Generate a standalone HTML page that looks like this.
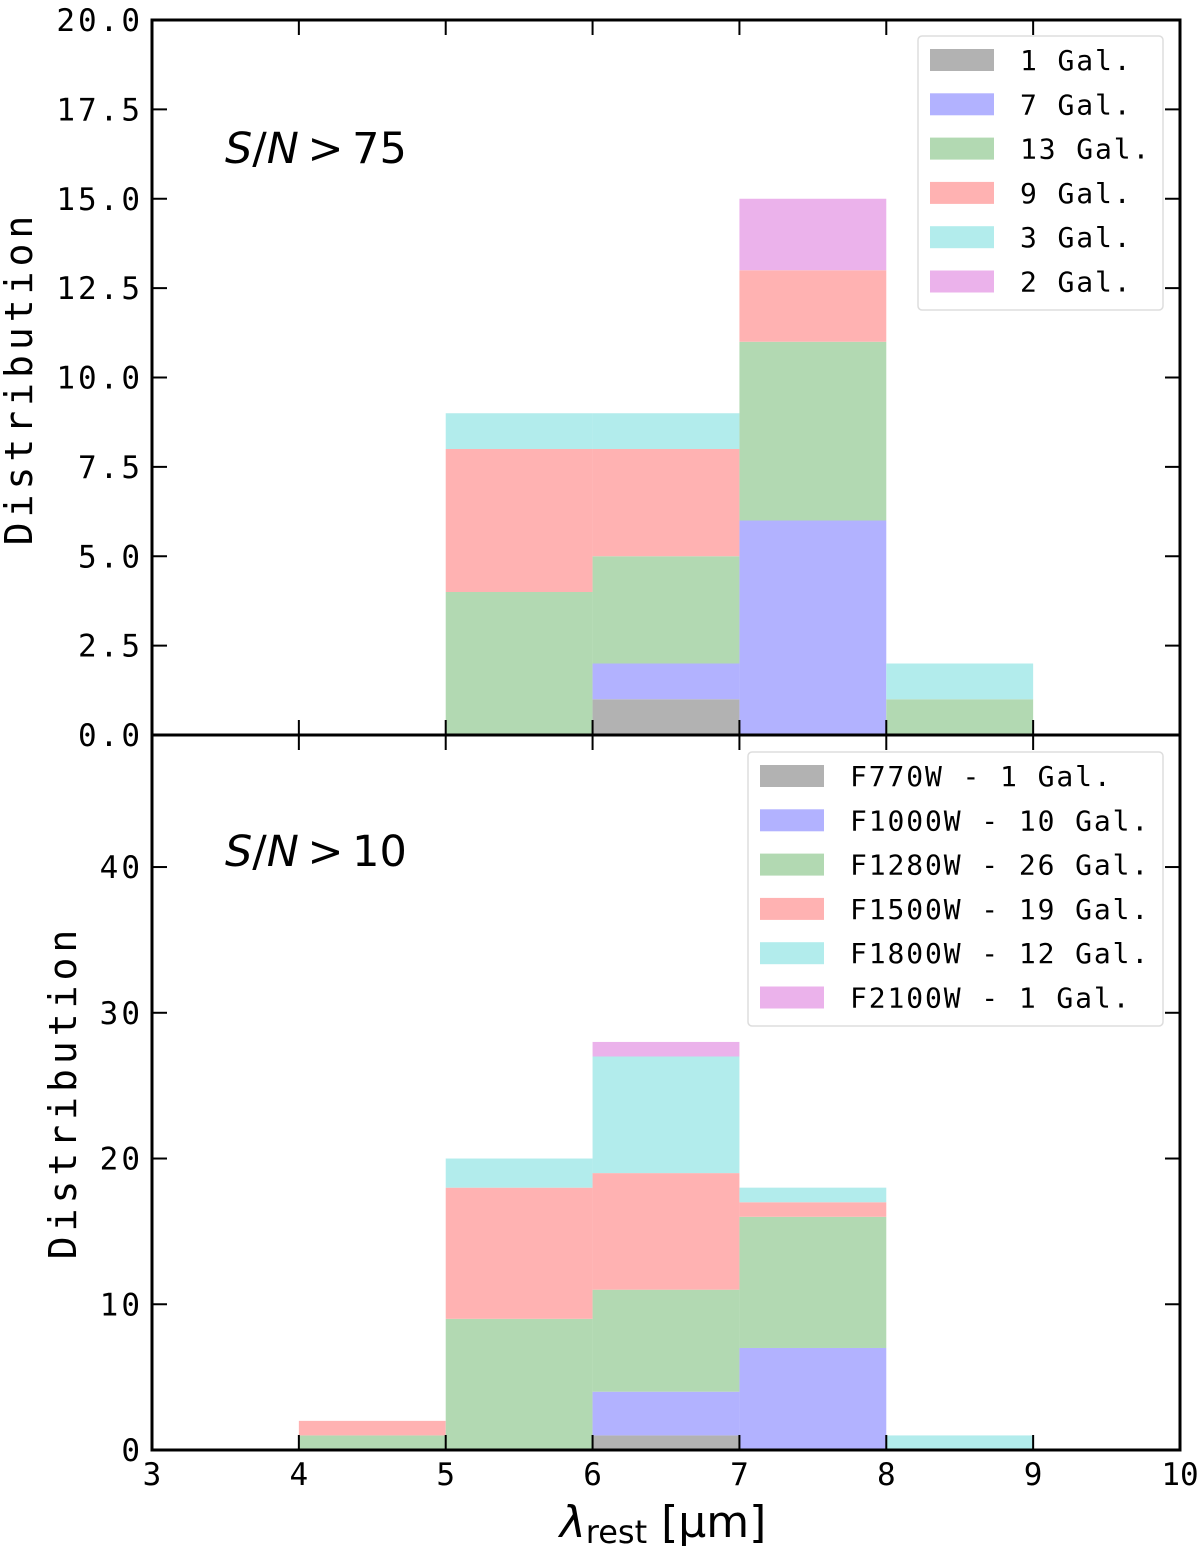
<!DOCTYPE html>
<html><head><meta charset="utf-8"><style>
body{margin:0;background:#fff}
svg text{font-family:"DejaVu Sans Mono","Liberation Mono",monospace}
</style></head><body>
<svg id="c" width="1200" height="1548" xmlns="http://www.w3.org/2000/svg"></svg>
<script>
const bins=[[4,5],[5,6],[6,7],[7,8],[8,9]];
const colors=['#b2b2b2','#b2b2ff','#b2d9b2','#ffb2b2','#b2ecec','#ebb2eb'];
const topSeries=[[0,0,1,0,0],[0,0,1,6,0],[0,4,3,5,1],[0,4,3,2,0],[0,1,1,0,1],[0,0,0,2,0]];
const botSeries=[[0,0,1,0,0],[0,0,3,7,0],[1,9,7,9,0],[1,9,8,1,0],[0,2,8,1,1],[0,0,1,0,0]];
const topLegend=['1 Gal.','7 Gal.','13 Gal.','9 Gal.','3 Gal.','2 Gal.'];
const botLegend=['F770W - 1 Gal.','F1000W - 10 Gal.','F1280W - 26 Gal.','F1500W - 19 Gal.','F1800W - 12 Gal.','F2100W - 1 Gal.'];
const topTicks=['0.0','2.5','5.0','7.5','10.0','12.5','15.0','17.5','20.0'];
const botTicks=['0','10','20','30','40'];
const xTicks=['3','4','5','6','7','8','9','10'];
const svg=document.getElementById('c');const NS='http://www.w3.org/2000/svg';
function mk(t,a,p){const e=document.createElementNS(NS,t);for(const k in a)e.setAttribute(k,a[k]);(p||svg).appendChild(e);return e;}
const L=152,R=1180;const X=v=>L+(v-3)*(R-L)/7;
function panel(top,bot,ymax,series,ticks,legend,name,lx,ly,lw,title,ty){
  const Y=v=>bot-v*(bot-top)/ymax;
  const g=mk('g',{});
  bins.forEach((b,i)=>{let acc=0;series.forEach((s,j)=>{if(s[i]>0){const r=mk('rect',{x:X(b[0]),width:X(b[1])-X(b[0]),y:Y(acc+s[i]),height:Y(acc)-Y(acc+s[i]),fill:colors[j]},g);
    }acc+=s[i];});});
  ticks.forEach(t=>{const v=parseFloat(t);const y=Y(v);mk('line',{x1:L,x2:L+15,y1:y,y2:y,stroke:'#000','stroke-width':2},g);mk('line',{x1:R,x2:R-15,y1:y,y2:y,stroke:'#000','stroke-width':2},g);
    const tx=mk('text',{x:L-9,y:y+11,'text-anchor':'end','font-size':31,'letter-spacing':3},g);tx.textContent=t;});
  xTicks.forEach(t=>{const x=X(+t);mk('line',{x1:x,x2:x,y1:bot,y2:bot-15,stroke:'#000','stroke-width':2},g);mk('line',{x1:x,x2:x,y1:top,y2:top+15,stroke:'#000','stroke-width':2},g);});
  mk('rect',{x:L,y:top,width:R-L,height:bot-top,fill:'none',stroke:'#000','stroke-width':3},g);
  const lg=mk('g',{},g);
  mk('rect',{x:lx,y:ly,width:lw,height:274,rx:4,fill:'#fff',stroke:'#ddd','stroke-width':1.5},lg);
  legend.forEach((t,j)=>{const yy=ly+13+j*44.3;mk('rect',{x:lx+12,y:yy,width:64,height:22,fill:colors[j]},lg);
    const tx=mk('text',{x:lx+102,y:yy+21,'font-size':28,'letter-spacing':1.9},lg);tx.textContent=t;});
  const tt=mk('text',{x:225,y:ty,'font-size':43,style:'font-family:"DejaVu Sans",sans-serif'},g);
  tt.innerHTML='<tspan font-style="italic">S</tspan>/<tspan font-style="italic">N</tspan>&#8201;&gt;&#8201;'+title;
  
}
panel(20,735,20,topSeries,topTicks,topLegend,'top-panel',918,36,245,'75',163);
panel(735,1450,49.06,botSeries,botTicks,botLegend,'bottom-panel',748,752,415,'10',866);
xTicks.forEach(t=>{const tx=mk('text',{x:X(+t),y:1485,'text-anchor':'middle','font-size':31});tx.textContent=t;});
let yl=mk('text',{x:0,y:0,'text-anchor':'middle','font-size':38,'letter-spacing':5,transform:'translate(32,378) rotate(-90)'});yl.textContent='Distribution';
yl=mk('text',{x:0,y:0,'text-anchor':'middle','font-size':38,'letter-spacing':5,transform:'translate(76,1092) rotate(-90)'});yl.textContent='Distribution';
const xl=mk('text',{x:663,y:1537,'text-anchor':'middle','font-size':44,style:'font-family:"DejaVu Sans",sans-serif'});
xl.innerHTML='<tspan font-style="italic">λ</tspan><tspan font-size="32" dy="6">rest</tspan><tspan dy="-6"> [μm]</tspan>';

</script>
</body></html>
